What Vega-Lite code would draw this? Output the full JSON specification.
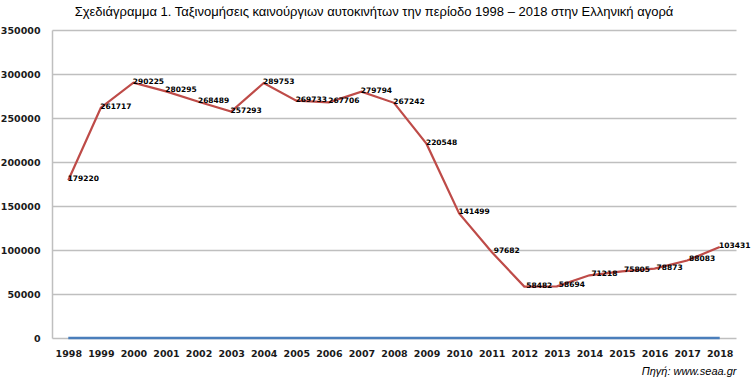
{
  "$schema": "https://vega.github.io/schema/vega-lite/v6.json",
  "autosize": "none",
  "width": 684,
  "height": 308,
  "padding": {"left": 52, "top": 30, "right": 17, "bottom": 44},
  "background": "white",
  "title": {
    "text": "Σχεδιάγραμμα 1. Ταξινομήσεις καινούργιων αυτοκινήτων την περίοδο 1998 – 2018 στην Ελληνική αγορά",
    "font": "Liberation Sans",
    "fontSize": 13,
    "fontWeight": "normal",
    "color": "#000000",
    "anchor": "middle",
    "dx": -20,
    "offset": 6
  },
  "config": {
    "view": {"stroke": null}
  },
  "data": {
    "values": [
      {"year": "1998", "registrations": 179220, "baseline": 0},
      {"year": "1999", "registrations": 261717, "baseline": 0},
      {"year": "2000", "registrations": 290225, "baseline": 0},
      {"year": "2001", "registrations": 280295, "baseline": 0},
      {"year": "2002", "registrations": 268489, "baseline": 0},
      {"year": "2003", "registrations": 257293, "baseline": 0},
      {"year": "2004", "registrations": 289753, "baseline": 0},
      {"year": "2005", "registrations": 269733, "baseline": 0},
      {"year": "2006", "registrations": 267706, "baseline": 0},
      {"year": "2007", "registrations": 279794, "baseline": 0},
      {"year": "2008", "registrations": 267242, "baseline": 0},
      {"year": "2009", "registrations": 220548, "baseline": 0},
      {"year": "2010", "registrations": 141499, "baseline": 0},
      {"year": "2011", "registrations": 97682, "baseline": 0},
      {"year": "2012", "registrations": 58482, "baseline": 0},
      {"year": "2013", "registrations": 58694, "baseline": 0},
      {"year": "2014", "registrations": 71218, "baseline": 0},
      {"year": "2015", "registrations": 75805, "baseline": 0},
      {"year": "2016", "registrations": 78873, "baseline": 0},
      {"year": "2017", "registrations": 88083, "baseline": 0},
      {"year": "2018", "registrations": 103431, "baseline": 0}
    ]
  },
  "encoding": {
    "x": {
      "field": "year",
      "type": "ordinal",
      "scale": {"type": "point", "padding": 0.5},
      "axis": {
        "title": "Πηγή: www.seaa.gr",
        "titleFont": "Liberation Sans",
        "titleFontSize": 11,
        "titleFontWeight": "normal",
        "titleFontStyle": "italic",
        "titleColor": "#000000",
        "titleAnchor": "end",
        "titleAlign": "right",
        "titlePadding": 8,
        "labelAngle": 0,
        "labelFont": "DejaVu Sans",
        "labelFontWeight": "bold",
        "labelFontSize": 9.5,
        "labelColor": "#1a1a1a",
        "labelPadding": 10,
        "domain": false,
        "ticks": false,
        "grid": false
      }
    }
  },
  "layer": [
    {
      "mark": {"type": "line", "color": "#4a7ebb", "strokeWidth": 2.5, "strokeCap": "butt"},
      "encoding": {
        "y": {"field": "baseline", "type": "quantitative"}
      }
    },
    {
      "mark": {"type": "line", "color": "#be4b48", "strokeWidth": 2.2},
      "encoding": {
        "y": {
          "field": "registrations",
          "type": "quantitative",
          "scale": {"domain": [0, 350000]},
          "axis": {
            "title": null,
            "values": [0, 50000, 100000, 150000, 200000, 250000, 300000, 350000],
            "format": "d",
            "labelFont": "DejaVu Sans",
            "labelFontWeight": "bold",
            "labelFontSize": 9.5,
            "labelColor": "#1a1a1a",
            "labelPadding": 12,
            "ticks": false,
            "domain": true,
            "domainColor": "#bfbfbf",
            "domainWidth": 1.5,
            "grid": true,
            "gridColor": "#bfbfbf",
            "gridWidth": 1.5
          }
        }
      }
    },
    {
      "mark": {
        "type": "text",
        "font": "DejaVu Sans",
        "fontWeight": "bold",
        "fontSize": 7.5,
        "color": "#000000",
        "dx": 15,
        "dy": -1,
        "align": "center",
        "baseline": "middle"
      },
      "encoding": {
        "y": {"field": "registrations", "type": "quantitative"},
        "text": {"field": "registrations", "type": "quantitative", "format": "d"}
      }
    }
  ]
}
